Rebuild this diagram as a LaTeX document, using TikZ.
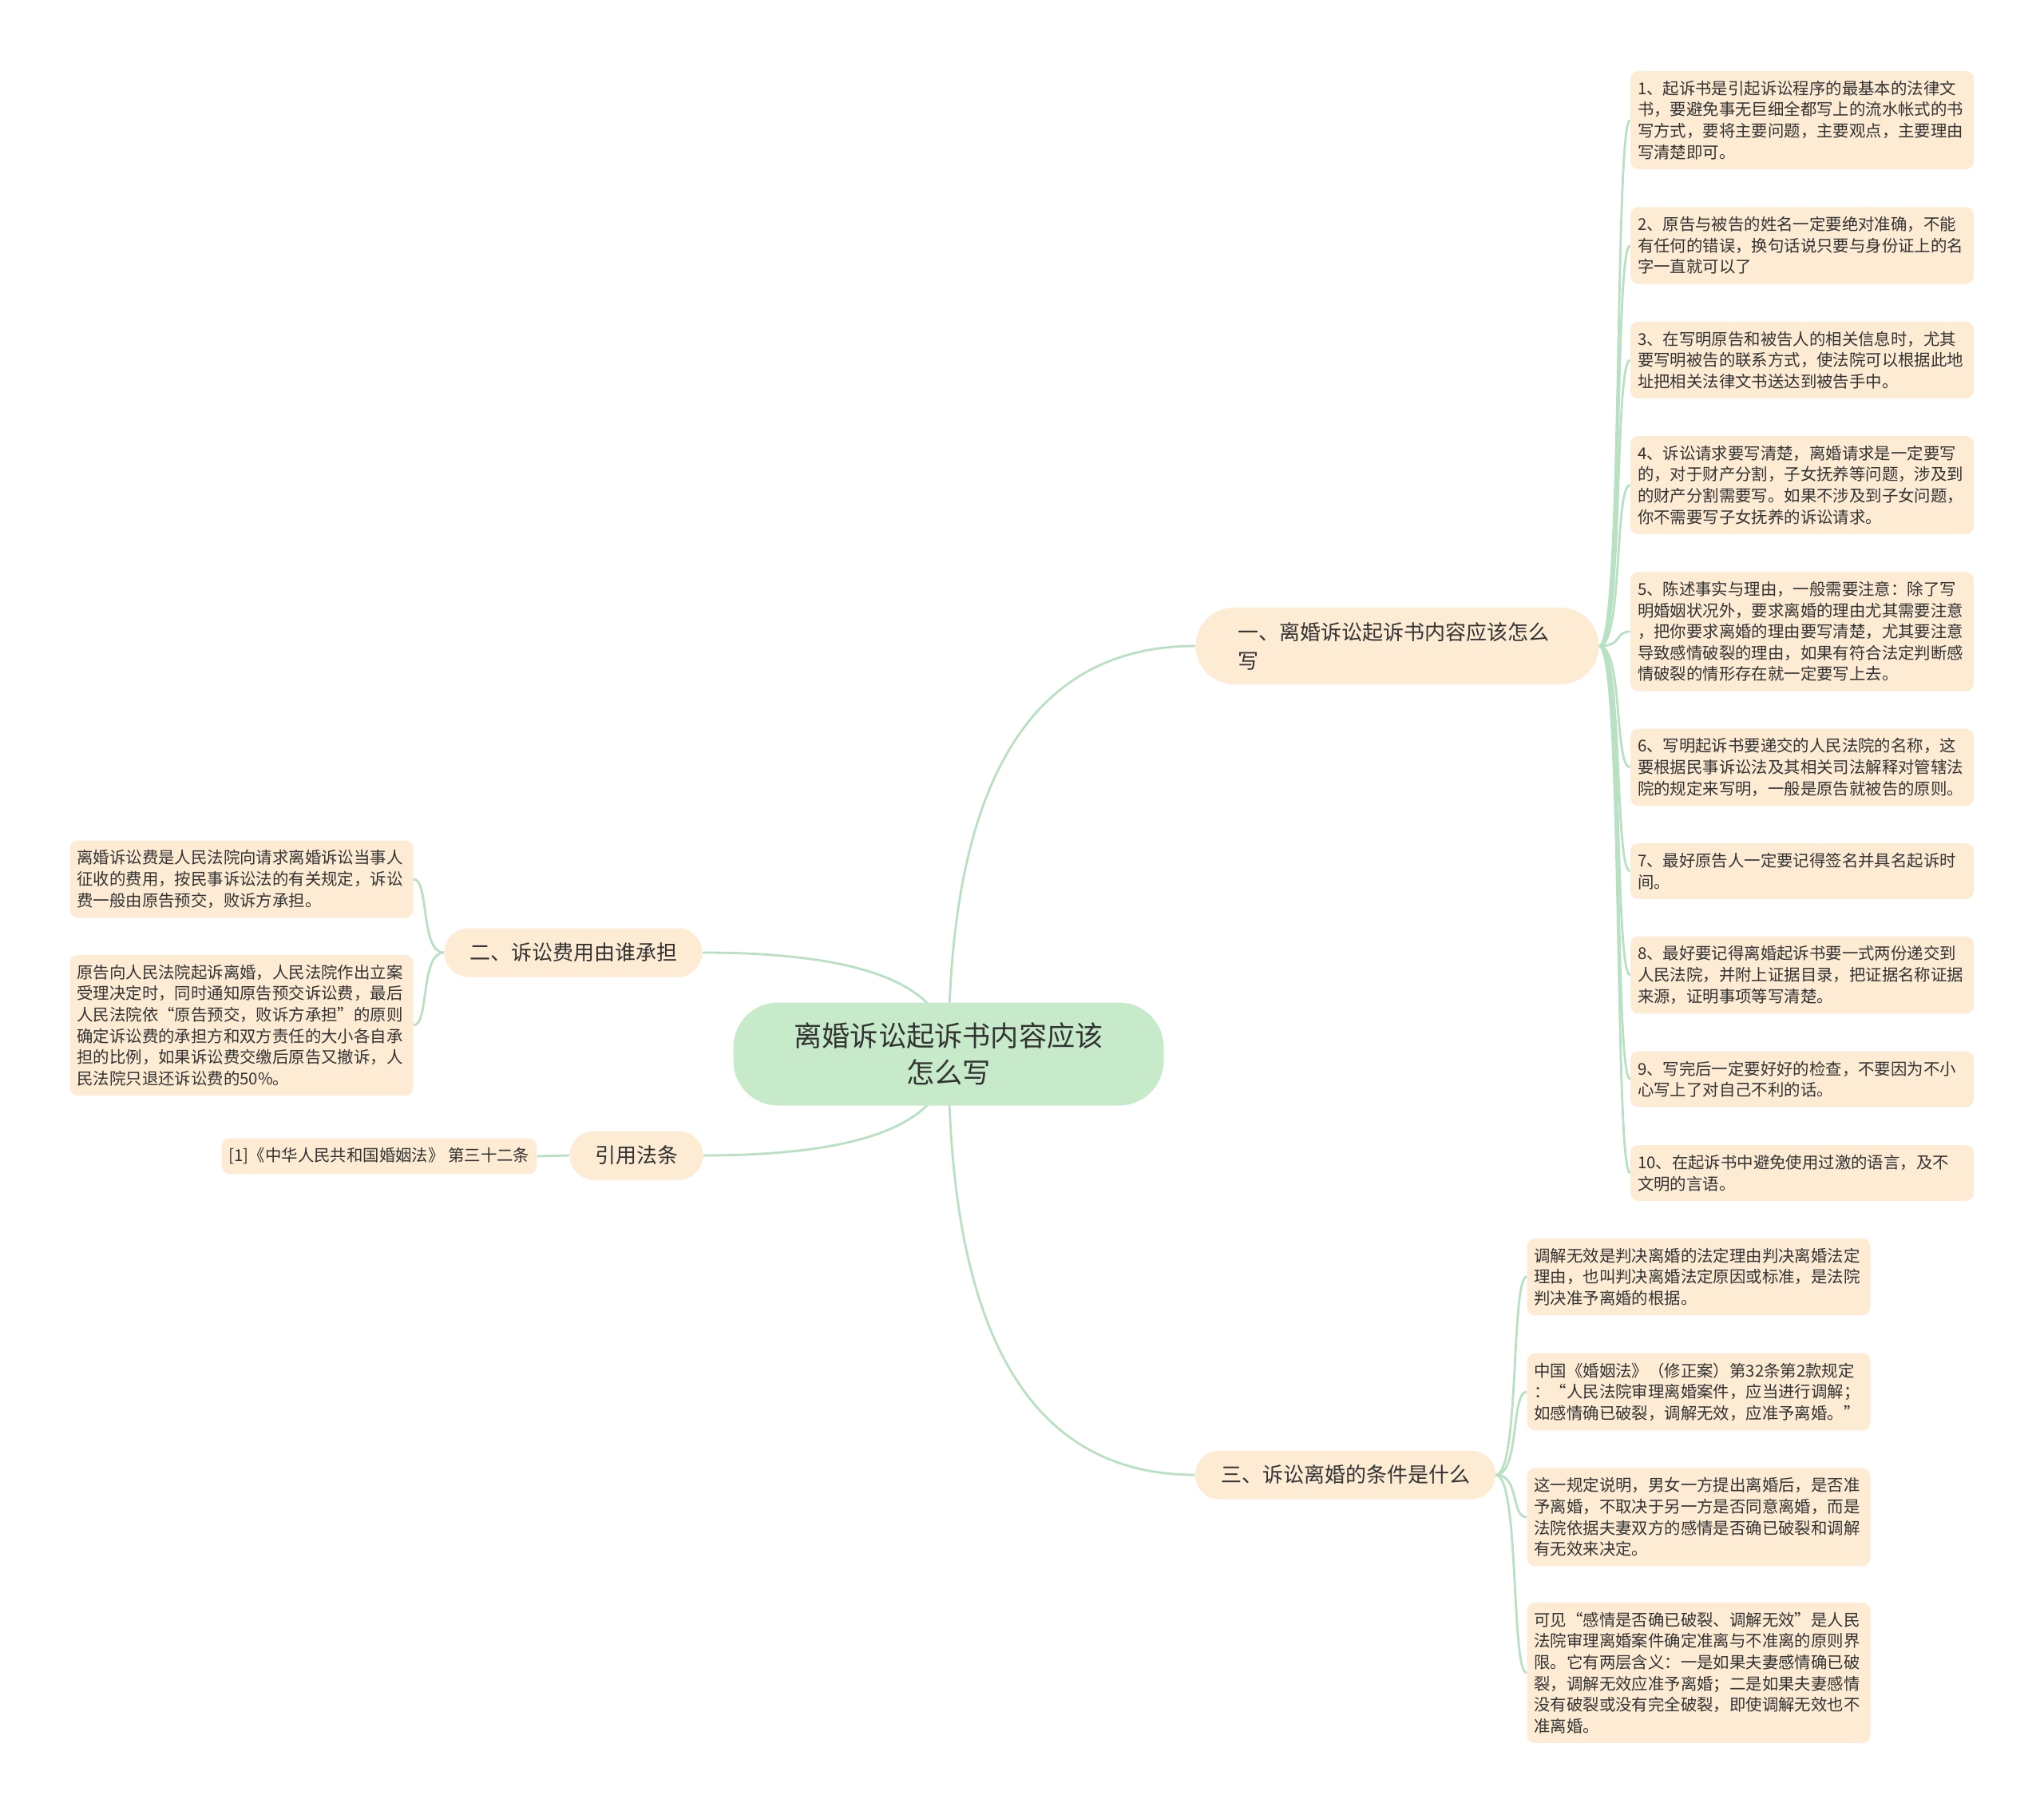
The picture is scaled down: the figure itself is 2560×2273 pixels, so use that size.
\documentclass[tikz,border=0pt]{standalone}
\usepackage{fontspec}
\setmainfont{Noto Sans CJK SC}
\usetikzlibrary{backgrounds}
\definecolor{rootgreen}{HTML}{C7EBCA}
\definecolor{peach}{HTML}{FDEBD4}
\definecolor{linkgreen}{HTML}{B8E0C2}
\definecolor{inkgray}{HTML}{333333}
\begin{document}
\begin{tikzpicture}[x=0.5pt, y=-0.5pt,
    rootbox/.style={fill=rootgreen, rounded corners=28pt, minimum width=269.5pt, minimum height=64.5pt, text width=200pt, align=center, text=inkgray, font=\fontsize{17.6}{23}\selectfont},
    topicbox/.style={fill=peach, rounded corners=15.25pt, minimum height=30.5pt, text=inkgray, font=\fontsize{13}{18}\selectfont},
    leafbox/.style={fill=peach, rounded corners=5pt, inner xsep=4.5pt, inner ysep=6pt, align=left, text=inkgray, font=\fontsize{10.2}{13.3}\selectfont},
    longleaf/.style={leafbox, text width=206pt},
    link/.style={draw=linkgreen, line width=1.4pt}]
    \useasboundingbox (0,0) rectangle (2560,2273);

    \node (root) [rootbox] at (1188,1320) {离婚诉讼起诉书内容应该\\怎么写};

    \node (b1) [topicbox, rounded corners=24pt, minimum width=252.5pt, minimum height=48pt, inner xsep=26pt, text width=200pt, align=left] at (1750,809) {一、离婚诉讼起诉书内容应该怎么\\写};
    \node (b2) [topicbox, minimum width=161.5pt] at (718,1193) {二、诉讼费用由谁承担};
    \node (b3) [topicbox, minimum width=83.5pt] at (797,1447) {引用法条};
    \node (b4) [topicbox, minimum width=188pt] at (1685,1847) {三、诉讼离婚的条件是什么};

    \node (r1) [longleaf] at (2257,150.5) {1、起诉书是引起诉讼程序的最基本的法律文\\书，要避免事无巨细全都写上的流水帐式的书\\写方式，要将主要问题，主要观点，主要理由\\写清楚即可。};
    \node (r2) [longleaf] at (2257,307.5) {2、原告与被告的姓名一定要绝对准确，不能\\有任何的错误，换句话说只要与身份证上的名\\字一直就可以了};
    \node (r3) [longleaf] at (2257,451) {3、在写明原告和被告人的相关信息时，尤其\\要写明被告的联系方式，使法院可以根据此地\\址把相关法律文书送达到被告手中。};
    \node (r4) [longleaf] at (2257,607.5) {4、诉讼请求要写清楚，离婚请求是一定要写\\的，对于财产分割，子女抚养等问题，涉及到\\的财产分割需要写。如果不涉及到子女问题，\\你不需要写子女抚养的诉讼请求。};
    \node (r5) [longleaf] at (2257,791) {5、陈述事实与理由，一般需要注意：除了写\\明婚姻状况外，要求离婚的理由尤其需要注意\\，把你要求离婚的理由要写清楚，尤其要注意\\导致感情破裂的理由，如果有符合法定判断感\\情破裂的情形存在就一定要写上去。};
    \node (r6) [longleaf] at (2257,961) {6、写明起诉书要递交的人民法院的名称，这\\要根据民事诉讼法及其相关司法解释对管辖法\\院的规定来写明，一般是原告就被告的原则。};
    \node (r7) [longleaf] at (2257,1091) {7、最好原告人一定要记得签名并具名起诉时\\间。};
    \node (r8) [longleaf] at (2257,1221) {8、最好要记得离婚起诉书要一式两份递交到\\人民法院，并附上证据目录，把证据名称证据\\来源，证明事项等写清楚。};
    \node (r9) [longleaf] at (2257,1351.5) {9、写完后一定要好好的检查，不要因为不小\\心写上了对自己不利的话。};
    \node (r10) [longleaf] at (2257,1469) {10、在起诉书中避免使用过激的语言，及不\\文明的言语。};

    \node (la) [longleaf] at (302.5,1101) {离婚诉讼费是人民法院向请求离婚诉讼当事人\\征收的费用，按民事诉讼法的有关规定，诉讼\\费一般由原告预交，败诉方承担。};
    \node (lb) [longleaf] at (302.5,1284) {原告向人民法院起诉离婚，人民法院作出立案\\受理决定时，同时通知原告预交诉讼费，最后\\人民法院依“原告预交，败诉方承担”的原则\\确定诉讼费的承担方和双方责任的大小各自承\\担的比例，如果诉讼费交缴后原告又撤诉，人\\民法院只退还诉讼费的50\%。};

    \node (law) [leafbox] at (475,1448) {[1]《中华人民共和国婚姻法》 第三十二条};

    \node (c1) [longleaf] at (2127.5,1599) {调解无效是判决离婚的法定理由判决离婚法定\\理由，也叫判决离婚法定原因或标准，是法院\\判决准予离婚的根据。};
    \node (c2) [longleaf] at (2127.5,1743) {中国《婚姻法》（修正案）第32条第2款规定\\：“人民法院审理离婚案件，应当进行调解；\\如感情确已破裂，调解无效，应准予离婚。”};
    \node (c3) [longleaf] at (2127.5,1900) {这一规定说明，男女一方提出离婚后，是否准\\予离婚，不取决于另一方是否同意离婚，而是\\法院依据夫妻双方的感情是否确已破裂和调解\\有无效来决定。};
    \node (c4) [longleaf] at (2127.5,2095) {可见“感情是否确已破裂、调解无效”是人民\\法院审理离婚案件确定准离与不准离的原则界\\限。它有两层含义：一是如果夫妻感情确已破\\裂，调解无效应准予离婚；二是如果夫妻感情\\没有破裂或没有完全破裂，即使调解无效也不\\准离婚。};

    \begin{scope}[on background layer]
        \fill [white] (0,0) rectangle (2560,2273);
        \draw [link] (root.center) .. controls +(0,-341) and +(-206,0) .. (b1.west);
        \draw [link] (root.center) .. controls +(0,351) and +(-206,0) .. (b4.west);
        \draw [link] (b2.east) .. controls +(205,0) and +(0,-85) .. (root.center);
        \draw [link] (b3.east) .. controls +(205,0) and +(0,85) .. (root.center);
        \foreach \n in {1,...,10}
            \draw [link] (b1.east) .. controls +(30,0) and +(-20,0) .. (r\n.west);
        \foreach \n in {a,b}
            \draw [link] (b2.west) .. controls +(-30,0) and +(20,0) .. (l\n.east);
        \draw [link] (b3.west) -- (law.east);
        \foreach \n in {1,...,4}
            \draw [link] (b4.east) .. controls +(30,0) and +(-20,0) .. (c\n.west);
    \end{scope}
\end{tikzpicture}
\end{document}
